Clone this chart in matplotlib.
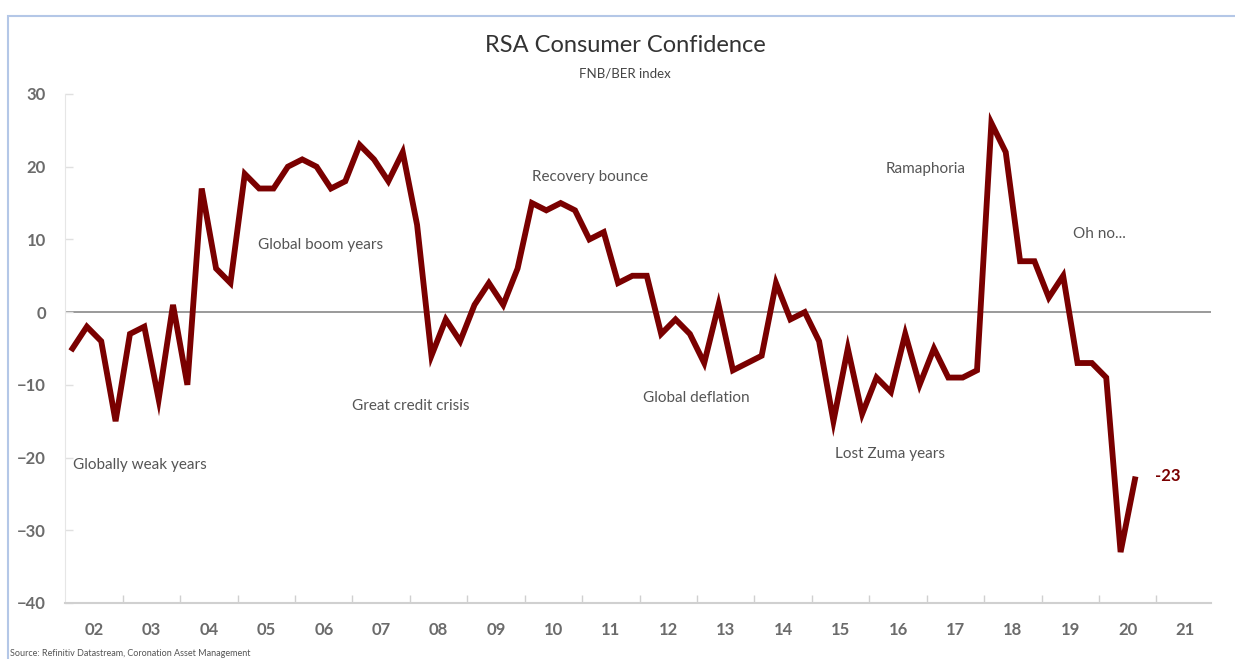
import numpy as np
import matplotlib.pyplot as plt
from matplotlib.patches import Rectangle

# FNB/BER consumer confidence index, quarterly, 2002Q1 - 2020Q3
start_year = 2002
cci = [-5, -2, -4, -15,
       -3, -2, -12, 1,
       -10, 17, 6, 4,
       19, 17, 17, 20,
       21, 20, 17, 18,
       23, 21, 18, 22,
       12, -6, -1, -4,
       1, 4, 1, 6,
       15, 14, 15, 14,
       10, 11, 4, 5,
       5, -3, -1, -3,
       -7, 1, -8, -7,
       -6, 4, -1, 0,
       -4, -15, -5, -14,
       -9, -11, -3, -10,
       -5, -9, -9, -8,
       26, 22, 7, 7,
       2, 5, -7, -7,
       -9, -33, -23]

year_labels = ['02', '03', '04', '05', '06', '07', '08', '09', '10', '11',
               '12', '13', '14', '15', '16', '17', '18', '19', '20', '21']
y_ticks = [-40, -30, -20, -10, 0, 10, 20, 30]

# period annotations: (text, x in years, y value, horizontal alignment)
notes = [
    ('Globally weak years', 2002.13, -21.0, 'left'),
    ('Global boom years', 2006.45, 9.2, 'center'),
    ('Great credit crisis', 2008.02, -12.9, 'center'),
    ('Recovery bounce', 2011.14, 18.6, 'center'),
    ('Global deflation', 2012.99, -11.8, 'center'),
    ('Lost Zuma years', 2015.40, -19.5, 'left'),
    ('Ramaphoria', 2016.98, 19.7, 'center'),
    ('Oh no...', 2019.55, 10.7, 'left'),
]

plt.rcParams['font.family'] = ['Lato', 'DejaVu Sans']
grey = '#6b6b6b'
red = '#7a0000'

x = start_year + (np.arange(len(cci)) + 0.5) / 4

fig = plt.figure(figsize=(12.35, 6.59), dpi=100)
ax = fig.add_axes([0.0529, 0.085, 0.9277, 0.7724])

ax.axhline(0, color='#7f7f7f', lw=1.1, zorder=1)
ax.plot(x, cci, color=red, lw=4.2, solid_joinstyle='miter', zorder=3)

ax.set_xlim(2002, 2021.95)
ax.set_ylim(-40, 30)

# year boundaries get the ticks, labels sit in the middle of each year
n_years = len(year_labels)
ax.set_xticks(np.arange(start_year + 1, start_year + n_years))
ax.set_xticklabels([])
ax.set_xticks(np.arange(n_years) + start_year + 0.5, minor=True)
ax.set_xticklabels(year_labels, minor=True)
ax.tick_params(axis='x', which='major', direction='in', length=6, color='#d0d0d0', width=1)
ax.tick_params(axis='x', which='minor', length=0, pad=14, labelsize=12, labelcolor=grey)

ax.set_yticks(y_ticks)
ax.tick_params(axis='y', direction='in', length=6, color='#e0e0e0', width=1,
               pad=14, labelsize=12, labelcolor=grey)
for lab in ax.get_xticklabels(minor=True) + ax.get_yticklabels():
    lab.set_fontweight('bold')

for s in ['top', 'right']:
    ax.spines[s].set_visible(False)
ax.spines['left'].set_color('#e6e6e6')
ax.spines['bottom'].set_color('#d0d0d0')
ax.spines['bottom'].set_linewidth(1.5)

for txt, tx, ty, ha in notes:
    ax.text(tx, ty, txt, ha=ha, va='center', fontsize=11, color='#555555')

ax.text(x[-1] + 0.35, cci[-1] + 0.4, str(cci[-1]), ha='left', va='center',
        fontsize=12, fontweight='bold', color=red)

fig.text(0.506, 1 - 45 / 659, 'RSA Consumer Confidence', ha='center', va='center',
         fontsize=17, color='#333333')
fig.text(0.506, 1 - 73 / 659, 'FNB/BER index', ha='center', va='center',
         fontsize=9.5, color='#444444')
fig.text(10 / 1235, 1 / 659, 'Source: Refinitiv Datastream, Coronation Asset Management',
         ha='left', va='bottom', fontsize=6.5, color='#555555')

fig.patches.append(Rectangle((8 / 1235, -0.1), 2, 1.1 - 16 / 659, transform=fig.transFigure,
                             fill=False, edgecolor='#b4c7e7', lw=1.5))

fig.savefig('out.png', dpi=100)
